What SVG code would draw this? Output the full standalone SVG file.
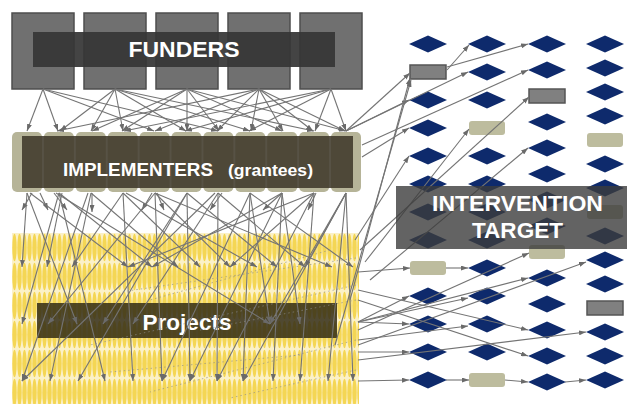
<svg xmlns="http://www.w3.org/2000/svg" xmlns:xlink="http://www.w3.org/1999/xlink" width="627" height="404" viewBox="0 0 627 404">
  <style>
    .fund{fill:#707070;stroke:#4e4e4e;stroke-width:1.5}
    .impl{fill:#b6b498}
    .lbl{font-family:"Liberation Sans",Arial,sans-serif;font-weight:bold;fill:#ffffff}
    .e{fill:none;stroke:#747474;stroke-width:1.1;marker-end:url(#ah)}
    .d{fill:none;stroke:#8c8c8c;stroke-width:0.8;stroke-dasharray:1.5 3;opacity:0.8}
  </style>
  <defs>
    <marker id="ah" markerUnits="userSpaceOnUse" markerWidth="7" markerHeight="5" refX="7" refY="2.5" orient="auto">
      <path d="M0,0 L7,2.5 L0,5 z" fill="#6a6a6a"/>
    </marker>
    <pattern id="grain" patternUnits="userSpaceOnUse" x="12" y="233" width="5" height="29">
      <ellipse cx="2.5" cy="14.5" rx="2.2" ry="13.8" fill="#f4d654"/>
    </pattern>
    <polygon id="dm" points="-19,0 0,-8.5 19,0 0,8.5" fill="#0e2a6c"/>
    <rect id="gr" x="-18" y="-7" width="36" height="14" fill="#808080" stroke="#555555" stroke-width="1.5"/>
    <rect id="kh" x="-18" y="-7" width="36" height="14" rx="3" fill="#bdbc9e"/>
  </defs>

  <rect width="627" height="404" fill="#ffffff"/>

  <!-- funders -->
  <g id="funders">
    <rect class="fund" x="12" y="13" width="62" height="76"/>
    <rect class="fund" x="84" y="13" width="62" height="76"/>
    <rect class="fund" x="156" y="13" width="62" height="76"/>
    <rect class="fund" x="228" y="13" width="62" height="76"/>
    <rect class="fund" x="300" y="13" width="62" height="76"/>
    <rect x="33" y="32" width="302" height="35" fill="#363636" opacity="0.93"/>
    <text class="lbl" x="184" y="57" font-size="22" text-anchor="middle" textLength="111" lengthAdjust="spacingAndGlyphs">FUNDERS</text>
  </g>

  <!-- implementers -->
  <g id="implementers">
    <rect class="impl" x="12" y="132" width="30" height="60" rx="5"/>
    <rect class="impl" x="43.9" y="132" width="30" height="60" rx="5"/>
    <rect class="impl" x="75.8" y="132" width="30" height="60" rx="5"/>
    <rect class="impl" x="107.7" y="132" width="30" height="60" rx="5"/>
    <rect class="impl" x="139.6" y="132" width="30" height="60" rx="5"/>
    <rect class="impl" x="171.5" y="132" width="30" height="60" rx="5"/>
    <rect class="impl" x="203.4" y="132" width="30" height="60" rx="5"/>
    <rect class="impl" x="235.3" y="132" width="30" height="60" rx="5"/>
    <rect class="impl" x="267.2" y="132" width="30" height="60" rx="5"/>
    <rect class="impl" x="299.1" y="132" width="30" height="60" rx="5"/>
    <rect class="impl" x="331" y="132" width="30" height="60" rx="5"/>
    <rect x="22" y="136" width="331" height="52" fill="#3e3829" opacity="0.87"/>
    <text class="lbl" x="63" y="176" font-size="18" textLength="150" lengthAdjust="spacingAndGlyphs">IMPLEMENTERS</text>
    <text class="lbl" x="228" y="176" font-size="16.5" textLength="85" lengthAdjust="spacingAndGlyphs">(grantees)</text>
  </g>

  <!-- projects -->
  <g id="projects">
    <rect x="12" y="233" width="347" height="171" fill="#fbf1c8"/>
    <rect x="12" y="233" width="347" height="171" fill="url(#grain)"/>
    <rect x="37" y="303" width="300" height="35" fill="#2f2814" opacity="0.84"/>
    <text class="lbl" x="187" y="330" font-size="22.5" text-anchor="middle" textLength="89" lengthAdjust="spacingAndGlyphs">Projects</text>
  </g>

  <!-- target population: column 1 -->
  <g id="t1-01"><use xlink:href="#dm" x="428" y="44"/></g>
  <g id="t1-02"><use xlink:href="#gr" x="428" y="72"/></g>
  <g id="t1-03"><use xlink:href="#dm" x="428" y="100"/></g>
  <g id="t1-04"><use xlink:href="#dm" x="428" y="128"/></g>
  <g id="t1-05"><use xlink:href="#dm" x="428" y="156"/></g>
  <g id="t1-06"><use xlink:href="#dm" x="428" y="184"/></g>
  <g id="t1-07"><use xlink:href="#dm" x="428" y="212"/></g>
  <g id="t1-08"><use xlink:href="#dm" x="428" y="240"/></g>
  <g id="t1-09"><use xlink:href="#kh" x="428" y="268"/></g>
  <g id="t1-10"><use xlink:href="#dm" x="428" y="296"/></g>
  <g id="t1-11"><use xlink:href="#dm" x="428" y="324"/></g>
  <g id="t1-12"><use xlink:href="#dm" x="428" y="352"/></g>
  <g id="t1-13"><use xlink:href="#dm" x="428" y="380"/></g>

  <!-- column 2 -->
  <g id="t2-01"><use xlink:href="#dm" x="487" y="44"/></g>
  <g id="t2-02"><use xlink:href="#dm" x="487" y="72"/></g>
  <g id="t2-03"><use xlink:href="#dm" x="487" y="100"/></g>
  <g id="t2-04"><use xlink:href="#kh" x="487" y="128"/></g>
  <g id="t2-05"><use xlink:href="#dm" x="487" y="156"/></g>
  <g id="t2-06"><use xlink:href="#dm" x="487" y="184"/></g>
  <g id="t2-07"><use xlink:href="#dm" x="487" y="212"/></g>
  <g id="t2-08"><use xlink:href="#dm" x="487" y="240"/></g>
  <g id="t2-09"><use xlink:href="#dm" x="487" y="268"/></g>
  <g id="t2-10"><use xlink:href="#dm" x="487" y="296"/></g>
  <g id="t2-11"><use xlink:href="#dm" x="487" y="324"/></g>
  <g id="t2-12"><use xlink:href="#dm" x="487" y="352"/></g>
  <g id="t2-13"><use xlink:href="#kh" x="487" y="380"/></g>

  <!-- column 3 -->
  <g id="t3-01"><use xlink:href="#dm" x="547" y="44"/></g>
  <g id="t3-02"><use xlink:href="#dm" x="547" y="70"/></g>
  <g id="t3-03"><use xlink:href="#gr" x="547" y="96"/></g>
  <g id="t3-04"><use xlink:href="#dm" x="547" y="122"/></g>
  <g id="t3-05"><use xlink:href="#dm" x="547" y="148"/></g>
  <g id="t3-06"><use xlink:href="#dm" x="547" y="174"/></g>
  <g id="t3-07"><use xlink:href="#dm" x="547" y="200"/></g>
  <g id="t3-08"><use xlink:href="#dm" x="547" y="226"/></g>
  <g id="t3-09"><use xlink:href="#kh" x="547" y="252"/></g>
  <g id="t3-10"><use xlink:href="#dm" x="547" y="278"/></g>
  <g id="t3-11"><use xlink:href="#dm" x="547" y="304"/></g>
  <g id="t3-12"><use xlink:href="#dm" x="547" y="330"/></g>
  <g id="t3-13"><use xlink:href="#dm" x="547" y="356"/></g>
  <g id="t3-14"><use xlink:href="#dm" x="547" y="382"/></g>

  <!-- column 4 -->
  <g id="t4-01"><use xlink:href="#dm" x="605" y="44"/></g>
  <g id="t4-02"><use xlink:href="#dm" x="605" y="68"/></g>
  <g id="t4-03"><use xlink:href="#dm" x="605" y="92"/></g>
  <g id="t4-04"><use xlink:href="#dm" x="605" y="116"/></g>
  <g id="t4-05"><use xlink:href="#kh" x="605" y="140"/></g>
  <g id="t4-06"><use xlink:href="#dm" x="605" y="164"/></g>
  <g id="t4-07"><use xlink:href="#dm" x="605" y="188"/></g>
  <g id="t4-08"><use xlink:href="#kh" x="605" y="212"/></g>
  <g id="t4-09"><use xlink:href="#dm" x="605" y="236"/></g>
  <g id="t4-10"><use xlink:href="#dm" x="605" y="260"/></g>
  <g id="t4-11"><use xlink:href="#dm" x="605" y="284"/></g>
  <g id="t4-12"><use xlink:href="#gr" x="605" y="308"/></g>
  <g id="t4-13"><use xlink:href="#dm" x="605" y="332"/></g>
  <g id="t4-14"><use xlink:href="#dm" x="605" y="356"/></g>
  <g id="t4-15"><use xlink:href="#dm" x="605" y="380"/></g>

  <g id="connectors">
    <!-- funders to implementers -->
    <line class="e" x1="43" y1="89" x2="27" y2="131"/>
    <line class="e" x1="43" y1="89" x2="58" y2="131"/>
    <line class="e" x1="43" y1="89" x2="154" y2="131"/>
    <line class="e" x1="43" y1="89" x2="218" y2="131"/>
    <line class="e" x1="115" y1="89" x2="91" y2="131"/>
    <line class="e" x1="115" y1="89" x2="123" y2="131"/>
    <line class="e" x1="115" y1="89" x2="60" y2="131"/>
    <line class="e" x1="115" y1="89" x2="186" y2="131"/>
    <line class="e" x1="115" y1="89" x2="250" y2="131"/>
    <line class="e" x1="115" y1="89" x2="314" y2="131"/>
    <line class="e" x1="187" y1="89" x2="122" y2="131"/>
    <line class="e" x1="187" y1="89" x2="187" y2="131"/>
    <line class="e" x1="187" y1="89" x2="219" y2="131"/>
    <line class="e" x1="187" y1="89" x2="282" y2="131"/>
    <line class="e" x1="187" y1="89" x2="346" y2="131"/>
    <line class="e" x1="187" y1="89" x2="92" y2="131"/>
    <line class="e" x1="259" y1="89" x2="155" y2="131"/>
    <line class="e" x1="259" y1="89" x2="217" y2="131"/>
    <line class="e" x1="259" y1="89" x2="251" y2="131"/>
    <line class="e" x1="259" y1="89" x2="283" y2="131"/>
    <line class="e" x1="259" y1="89" x2="313" y2="131"/>
    <line class="e" x1="259" y1="89" x2="345" y2="131"/>
    <line class="e" x1="259" y1="89" x2="57" y2="131"/>
    <line class="e" x1="331" y1="89" x2="249" y2="131"/>
    <line class="e" x1="331" y1="89" x2="315" y2="131"/>
    <line class="e" x1="331" y1="89" x2="346" y2="131"/>
    <line class="e" x1="331" y1="89" x2="185" y2="131"/>
    <line class="e" x1="331" y1="89" x2="124" y2="131"/>

    <!-- implementers to projects: short -->
    <line class="e" x1="32" y1="193" x2="22" y2="210"/>
    <line class="e" x1="40" y1="193" x2="48" y2="210"/>
    <line class="e" x1="54" y1="193" x2="67" y2="210"/>
    <line class="e" x1="92" y1="193" x2="92" y2="212"/>
    <line class="e" x1="152" y1="193" x2="142" y2="210"/>
    <line class="e" x1="157" y1="193" x2="164" y2="210"/>
    <line class="e" x1="222" y1="193" x2="210" y2="210"/>
    <line class="e" x1="282" y1="193" x2="263" y2="210"/>
    <line class="e" x1="316" y1="193" x2="308" y2="210"/>

    <!-- implementers to projects: long -->
    <line class="e" x1="27" y1="193" x2="22" y2="267"/>
    <line class="e" x1="27" y1="193" x2="77" y2="324"/>
    <line class="e" x1="30" y1="193" x2="128" y2="267"/>
    <line class="e" x1="59" y1="193" x2="22" y2="324"/>
    <line class="e" x1="59" y1="193" x2="105" y2="381"/>
    <line class="e" x1="59" y1="193" x2="152" y2="267"/>
    <line class="e" x1="62" y1="193" x2="47" y2="267"/>
    <line class="e" x1="56" y1="193" x2="270" y2="324"/>
    <line class="e" x1="91" y1="193" x2="50" y2="381"/>
    <line class="e" x1="91" y1="193" x2="178" y2="267"/>
    <line class="e" x1="88" y1="193" x2="22" y2="381"/>
    <line class="e" x1="123" y1="193" x2="72" y2="267"/>
    <line class="e" x1="123" y1="193" x2="133" y2="381"/>
    <line class="e" x1="123" y1="193" x2="200" y2="267"/>
    <line class="e" x1="126" y1="193" x2="257" y2="267"/>
    <line class="e" x1="155" y1="193" x2="48" y2="324"/>
    <line class="e" x1="155" y1="193" x2="162" y2="381"/>
    <line class="e" x1="155" y1="193" x2="230" y2="267"/>
    <line class="e" x1="155" y1="193" x2="332" y2="267"/>
    <line class="e" x1="187" y1="193" x2="103" y2="324"/>
    <line class="e" x1="187" y1="193" x2="190" y2="381"/>
    <line class="e" x1="187" y1="193" x2="78" y2="381"/>
    <line class="e" x1="187" y1="193" x2="277" y2="267"/>
    <line class="e" x1="218" y1="193" x2="133" y2="324"/>
    <line class="e" x1="218" y1="193" x2="217" y2="381"/>
    <line class="e" x1="218" y1="193" x2="305" y2="267"/>
    <line class="e" x1="215" y1="193" x2="22" y2="381"/>
    <line class="e" x1="250" y1="193" x2="162" y2="381"/>
    <line class="e" x1="250" y1="193" x2="243" y2="381"/>
    <line class="e" x1="250" y1="193" x2="353" y2="267"/>
    <line class="e" x1="250" y1="193" x2="270" y2="324"/>
    <line class="e" x1="282" y1="193" x2="190" y2="381"/>
    <line class="e" x1="282" y1="193" x2="273" y2="381"/>
    <line class="e" x1="282" y1="193" x2="152" y2="267"/>
    <line class="e" x1="282" y1="193" x2="300" y2="324"/>
    <line class="e" x1="314" y1="193" x2="217" y2="381"/>
    <line class="e" x1="314" y1="193" x2="300" y2="381"/>
    <line class="e" x1="314" y1="193" x2="230" y2="267"/>
    <line class="e" x1="314" y1="193" x2="128" y2="267"/>
    <line class="e" x1="346" y1="193" x2="243" y2="381"/>
    <line class="e" x1="346" y1="193" x2="328" y2="381"/>
    <line class="e" x1="346" y1="193" x2="353" y2="381"/>
    <line class="e" x1="346" y1="193" x2="270" y2="324"/>
    <line class="e" x1="346" y1="193" x2="305" y2="267"/>

    <!-- faint links inside projects -->
    <line class="d" x1="356" y1="258" x2="120" y2="292"/>
    <line class="d" x1="356" y1="285" x2="90" y2="345"/>
    <line class="d" x1="356" y1="300" x2="200" y2="330"/>
    <line class="d" x1="356" y1="340" x2="150" y2="392"/>
    <line class="d" x1="330" y1="250" x2="150" y2="300"/>
    <line class="d" x1="356" y1="370" x2="230" y2="398"/>
    <line class="d" x1="300" y1="355" x2="110" y2="372"/>

    <!-- implementers and projects to targets -->
    <line class="e" x1="346" y1="131" x2="410" y2="73"/>
    <line class="e" x1="346" y1="131" x2="409" y2="100"/>
    <line class="e" x1="346" y1="131" x2="468" y2="72"/>
    <line class="e" x1="362" y1="157" x2="409" y2="128"/>
    <line class="e" x1="362" y1="145" x2="528" y2="70"/>
    <line class="e" x1="447" y1="70" x2="469" y2="45"/>
    <line class="e" x1="447" y1="67" x2="528" y2="44"/>
    <line class="e" x1="350" y1="300" x2="410" y2="78"/>
    <line class="e" x1="335" y1="345" x2="411" y2="80"/>
    <line class="e" x1="365" y1="262" x2="469" y2="129"/>
    <line class="e" x1="360" y1="250" x2="529" y2="97"/>
    <line class="e" x1="370" y1="280" x2="528" y2="148"/>
    <line class="e" x1="355" y1="240" x2="409" y2="156"/>
    <line class="e" x1="358" y1="272" x2="410" y2="268"/>
    <line class="e" x1="358" y1="322" x2="409" y2="296"/>
    <line class="e" x1="358" y1="322" x2="409" y2="324"/>
    <line class="e" x1="358" y1="322" x2="468" y2="298"/>
    <line class="e" x1="358" y1="300" x2="528" y2="356"/>
    <line class="e" x1="358" y1="290" x2="528" y2="330"/>
    <line class="e" x1="358" y1="322" x2="528" y2="278"/>
    <line class="e" x1="358" y1="345" x2="586" y2="262"/>
    <line class="e" x1="358" y1="360" x2="586" y2="332"/>
    <line class="e" x1="358" y1="352" x2="409" y2="352"/>
    <line class="e" x1="358" y1="381" x2="409" y2="380"/>
    <line class="e" x1="358" y1="330" x2="529" y2="253"/>
    <line class="e" x1="358" y1="340" x2="468" y2="326"/>
    <line class="e" x1="446" y1="268" x2="468" y2="268"/>
    <line class="e" x1="446" y1="380" x2="469" y2="380"/>
    <line class="e" x1="505" y1="380" x2="528" y2="382"/>
    <line class="e" x1="565" y1="382" x2="586" y2="380"/>
  </g>

  <!-- target banner -->
  <g id="intervention-target">
    <rect x="396" y="186" width="231" height="63" fill="#3c3c3c" opacity="0.8"/>
    <text class="lbl" x="517.5" y="211" font-size="21.5" text-anchor="middle" textLength="171" lengthAdjust="spacingAndGlyphs">INTERVENTION</text>
    <text class="lbl" x="517.5" y="238" font-size="21.5" text-anchor="middle" textLength="91" lengthAdjust="spacingAndGlyphs">TARGET</text>
  </g>
</svg>
